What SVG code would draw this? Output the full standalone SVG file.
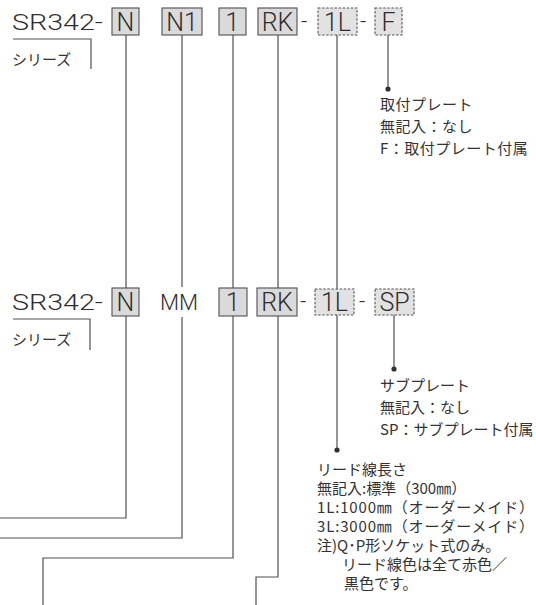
<svg xmlns="http://www.w3.org/2000/svg" width="536" height="605" viewBox="0 0 536 605">
<style>
.code{font-family:Roboto,"Liberation Sans",Arial,sans-serif;font-weight:300;font-size:22px;fill:#2e2e2e}
.big{font-size:25px}
.jp{font-family:"Noto Sans CJK JP","Noto Sans",sans-serif;font-size:15px;letter-spacing:0.5px;fill:#333}
.jpm{font-family:"Noto Sans CJK JP","Noto Sans",sans-serif;font-size:15px;fill:#333}
.box{fill:#dadada;stroke:#505050;stroke-width:1.1}
.dbox{fill:#e2e2e2;stroke:#555;stroke-width:1.1;stroke-dasharray:2.5 1.6}
.ln{fill:none;stroke:#505050;stroke-width:1.2}
.dot{fill:#333}
</style>
<rect width="536" height="605" fill="#fff"/>
<g id="connectors">
<path class="ln" d="M126,35 V288 M126,316 V518 H0"/>
<path class="ln" d="M182,35 V287 M182,317 V538 H0"/>
<path class="ln" d="M233,35 V288 M233,316 V558 H43 V605"/>
<path class="ln" d="M278,35 V288 M278,316 V577 H256 V605"/>
<path class="ln" d="M337,35 V289 M337,315 V450"/>
<path class="ln" d="M388,35 V89"/>
<path class="ln" d="M394,315 V369"/>
<circle class="dot" cx="388" cy="89" r="2.6"/>
<circle class="dot" cx="394" cy="369" r="2.6"/>
<circle class="dot" cx="337" cy="450" r="2.6"/>
</g>
<g id="row1">
<g id="r1-model"><text class="code" x="12" y="30" textLength="91" lengthAdjust="spacingAndGlyphs">SR342-</text></g>
<g id="r1-series"><path class="ln" d="M13,39 H91 V69"/><text class="jpm" x="12" y="65">シリーズ</text></g>
<g id="r1-N"><rect class="box" x="112" y="8" width="27" height="27"/><text class="code big" x="125.5" y="31" text-anchor="middle">N</text></g>
<g id="r1-N1"><rect class="box" x="162" y="8" width="40" height="27"/><text class="code big" x="182" y="31" text-anchor="middle">N1</text></g>
<g id="r1-1"><rect class="box" x="219" y="8" width="27" height="27"/><text class="code big" x="232.5" y="31" text-anchor="middle">1</text></g>
<g id="r1-RK"><rect class="box" x="258" y="8" width="39" height="27"/><text class="code big" x="277.5" y="31" text-anchor="middle">RK</text></g>
<text class="code" x="301" y="29">-</text>
<g id="r1-1L"><rect class="dbox" x="318" y="8" width="39" height="27"/><text class="code big" x="337.5" y="31" text-anchor="middle">1L</text></g>
<text class="code" x="360" y="29">-</text>
<g id="r1-F"><rect class="dbox" x="375" y="8" width="27" height="27"/><text class="code big" x="388.5" y="31" text-anchor="middle">F</text></g>
<g id="r1-F-label">
<text class="jp" x="380" y="109.5">取付プレート</text>
<text class="jp" x="380" y="131.5">無記入：なし</text>
<text class="jp" x="380" y="153.5">F：取付プレート付属</text>
</g>
</g>
<g id="row2">
<g id="r2-model"><text class="code" x="12" y="310" textLength="91" lengthAdjust="spacingAndGlyphs">SR342-</text></g>
<g id="r2-series"><path class="ln" d="M13,319 H90 V350"/><text class="jpm" x="12" y="345">シリーズ</text></g>
<g id="r2-N"><rect class="box" x="112" y="288" width="27" height="28"/><text class="code big" x="125.5" y="311" text-anchor="middle">N</text></g>
<g id="r2-MM"><text class="code" x="179" y="310" text-anchor="middle">MM</text></g>
<g id="r2-1"><rect class="box" x="219" y="288" width="28" height="28"/><text class="code big" x="233" y="311" text-anchor="middle">1</text></g>
<g id="r2-RK"><rect class="box" x="257" y="288" width="40" height="28"/><text class="code big" x="277" y="311" text-anchor="middle">RK</text></g>
<text class="code" x="300" y="309">-</text>
<g id="r2-1L"><rect class="dbox" x="315" y="289" width="39" height="26"/><text class="code big" x="334.5" y="311" text-anchor="middle">1L</text></g>
<text class="code" x="359" y="309">-</text>
<g id="r2-SP"><rect class="dbox" x="375" y="289" width="39" height="26"/><text class="code big" x="394.5" y="311" text-anchor="middle">SP</text></g>
<g id="r2-SP-label">
<text class="jpm" x="380" y="391">サブプレート</text>
<text class="jpm" x="380" y="413">無記入：なし</text>
<text class="jpm" x="380" y="435">SP：サブプレート付属</text>
</g>
<g id="r2-1L-label">
<text class="jpm" x="317" y="475">リード線長さ</text>
<text class="jpm" x="317" y="494">無記入:標準（300㎜）</text>
<text class="jpm" x="317" y="513" textLength="217" lengthAdjust="spacing">1L:1000㎜（オーダーメイド）</text>
<text class="jpm" x="317" y="532" textLength="217" lengthAdjust="spacing">3L:3000㎜（オーダーメイド）</text>
<text class="jpm" x="317" y="551">注)Q･P形ソケット式のみ。</text>
<text class="jpm" x="342" y="570">リード線色は全て赤色／</text>
<text class="jpm" x="344" y="589">黒色です。</text>
</g>
</g>
</svg>
